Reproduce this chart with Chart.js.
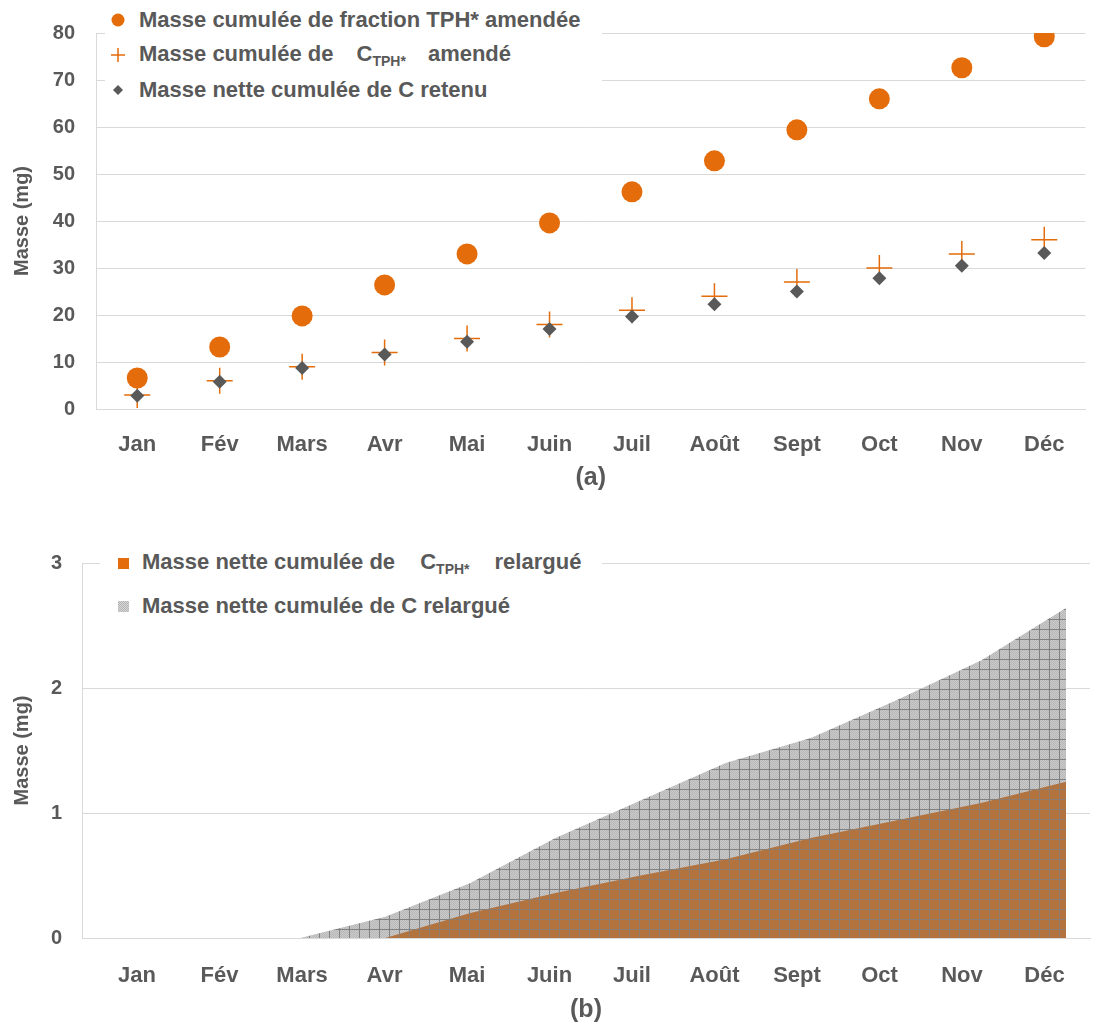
<!DOCTYPE html>
<html lang="fr">
<head>
<meta charset="UTF-8">
<title>Masse cumulée</title>
<script src="https://cdn.jsdelivr.net/npm/chart.js"></script>
<style>
  body{margin:0;background:#fff;font-family:"Liberation Sans",Arial,sans-serif}
  .box{position:relative;width:1100px}
  .leg{position:absolute;background:#fff;color:#595959;font-weight:bold;font-size:22px}
  .row{position:absolute;left:0;white-space:nowrap;display:flex;align-items:center}
  .row svg{position:absolute}
  .row span.t{position:absolute}
  sub{font-size:14px;vertical-align:-5px}
</style>
</head>
<body>
<div class="box" style="height:500px">
  <canvas id="chartA"></canvas>
  <div class="leg" style="left:105px;top:3px;width:497px;height:103px">
    <div class="row" style="top:0;height:34px">
      <svg width="16" height="16" style="left:5px"><circle cx="8" cy="8" r="6.5" fill="#e46c0a"/></svg>
      <span class="t" style="left:34px">Masse cumulée de fraction TPH* amendée</span>
    </div>
    <div class="row" style="top:35px;height:34px">
      <svg width="16" height="16" style="left:5px"><path d="M1 8H15M8 1V15" stroke="#e46c0a" stroke-width="1.5"/></svg>
      <span class="t" style="left:34px">Masse cumulée de <span style="margin-left:17px">C<sub>TPH*</sub></span><span style="margin-left:22px">amendé</span></span>
    </div>
    <div class="row" style="top:70px;height:34px">
      <svg width="16" height="16" style="left:5px"><path d="M8 3L13 8L8 13L3 8Z" fill="#595959"/></svg>
      <span class="t" style="left:34px">Masse nette cumulée de C retenu</span>
    </div>
  </div>
</div>
<div class="box" style="height:530px">
  <canvas id="chartB"></canvas>
  <div class="leg" style="left:100px;top:42px;width:502px;height:80px">
    <div class="row" style="top:0;height:42px">
      <span style="position:absolute;left:18px;width:11px;height:11px;background:#e46c0a"></span>
      <span class="t" style="left:42px">Masse nette cumulée de <span style="margin-left:19px">C<sub>TPH*</sub></span><span style="margin-left:25px">relargué</span></span>
    </div>
    <div class="row" style="top:43px;height:42px">
      <span style="position:absolute;left:18px;width:11px;height:11px;background:repeating-conic-gradient(#b4b4b4 0 25%,#d6d6d6 0 50%) 0 0/2px 2px"></span>
      <span class="t" style="left:42px">Masse nette cumulée de C relargué</span>
    </div>
  </div>
</div>

<script>
const months = ['Jan','Fév','Mars','Avr','Mai','Juin','Juil','Août','Sept','Oct','Nov','Déc'];

// (a) cumulative masses, mg
const masseTPH   = [6.6, 13.2, 19.8, 26.4, 33.0, 39.6, 46.2, 52.8, 59.4, 66.0, 72.6, 79.2];
const masseCTPH  = [3.0, 6.0, 9.0, 12.0, 15.0, 18.0, 21.0, 24.0, 27.0, 30.0, 33.0, 36.0];
const masseCnet  = [2.8, 5.8, 8.7, 11.6, 14.3, 17.0, 19.7, 22.3, 25.0, 27.8, 30.5, 33.2];

// (b) released masses, mg
const relCTPH = [0, 0, 0, 0, 0.20, 0.36, 0.50, 0.63, 0.80, 0.94, 1.08, 1.25];
const relC    = [0, 0, 0, 0.17, 0.44, 0.80, 1.10, 1.40, 1.60, 1.90, 2.22, 2.64];

const GREY = '#595959', GRID = '#d9d9d9', ORANGE = '#e46c0a';
const FAM = '"Liberation Sans", Arial, sans-serif';
const xFont = {family:FAM, size:22, weight:'bold'};
const yFont = {family:FAM, size:20, weight:'bold'};
const titleFont = {family:FAM, size:25, weight:'bold'};

function makePattern(base, dot, line){
  const c = document.createElement('canvas');
  c.width = 10; c.height = 10;
  const g = c.getContext('2d');
  g.fillStyle = base; g.fillRect(0,0,10,10);
  if(dot){
    g.fillStyle = dot;
    for(let y=0;y<10;y++) for(let x=(y%2);x<10;x+=2) g.fillRect(x,y,1,1);
  }
  g.fillStyle = line;
  g.fillRect(9,0,1,10); g.fillRect(0,9,10,1);
  return g.createPattern(c,'repeat');
}

// ---- (a) ----
new Chart(document.getElementById('chartA'), {
  type:'line',
  data:{
    labels:months,
    datasets:[
      {label:'Masse cumulée de fraction TPH* amendée', data:masseTPH, showLine:false,
       pointStyle:'circle', pointRadius:10.5, pointBackgroundColor:ORANGE, pointBorderWidth:0, order:3},
      {label:'Masse cumulée de CTPH* amendé', data:masseCTPH, showLine:false,
       pointStyle:'cross', pointRadius:13, pointBorderColor:ORANGE, pointBorderWidth:1.5, order:2},
      {label:'Masse nette cumulée de C retenu', data:masseCnet, showLine:false,
       pointStyle:'rectRot', pointRadius:7, pointBackgroundColor:GREY, pointBorderWidth:0, order:1}
    ]
  },
  options:{
    responsive:true, maintainAspectRatio:false, animation:false,
    layout:{padding:{top:20,right:14,left:0,bottom:0}},
    plugins:{legend:{display:false}, tooltip:{enabled:false}},
    scales:{
      x:{
        offset:true,
        grid:{display:false, offset:true}, border:{color:GRID},
        ticks:{color:GREY, font:xFont, padding:15, maxRotation:0, autoSkip:false},
        title:{display:true, text:'(a)', color:GREY, font:titleFont, padding:{bottom:7}},
        afterFit:s=>{s.height = 91;}
      },
      y:{
        min:0, max:80,
        grid:{color:GRID, drawTicks:false}, border:{color:GRID},
        ticks:{stepSize:10, color:GREY, font:yFont, padding:21},
        title:{display:true, text:'Masse (mg)', color:GREY, font:yFont, padding:{top:10}},
        afterFit:s=>{s.width = 96;}
      }
    }
  }
});

// ---- (b) ----
const ctxB = document.getElementById('chartB').getContext('2d');
new Chart(ctxB, {
  type:'line',
  data:{
    datasets:[
      {label:'Masse nette cumulée de CTPH* relargué', data:relCTPH.map((v,i)=>({x:i,y:v})),
       xAxisID:'xd', fill:'origin', backgroundColor:makePattern('#b3733e', null, '#8d7d70'),
       borderWidth:0, pointRadius:0, tension:0, order:0},
      {label:'Masse nette cumulée de C relargué', data:relC.map((v,i)=>({x:i,y:v})),
       xAxisID:'xd', fill:'origin', backgroundColor:makePattern('#cacaca', '#b8b8b8', '#808080'),
       borderWidth:0, pointRadius:0, tension:0, order:1}
    ]
  },
  options:{
    responsive:true, maintainAspectRatio:false, animation:false,
    layout:{padding:{top:63,right:10,left:0,bottom:0}},
    plugins:{legend:{display:false}, tooltip:{enabled:false}},
    scales:{
      x:{
        type:'linear', position:'bottom', min:-0.667, max:11.552,
        grid:{display:false}, border:{color:GRID},
        afterBuildTicks:s=>{s.ticks = months.map((m,i)=>({value:i}));},
        ticks:{color:GREY, font:xFont, padding:17, maxRotation:0, autoSkip:false,
               callback:v=>months[v]},
        title:{display:true, text:'(b)', color:GREY, font:titleFont, padding:{bottom:5}},
        afterFit:s=>{s.height = 92;}
      },
      xd:{type:'linear', display:false, min:-0.564, max:11.281},
      y:{
        min:0, max:3,
        grid:{color:GRID, drawTicks:false}, border:{color:GRID},
        ticks:{stepSize:1, color:GREY, font:yFont, padding:20},
        title:{display:true, text:'Masse (mg)', color:GREY, font:yFont, padding:{top:10}},
        afterFit:s=>{s.width = 82;}
      }
    }
  }
});
</script>
</body>
</html>
